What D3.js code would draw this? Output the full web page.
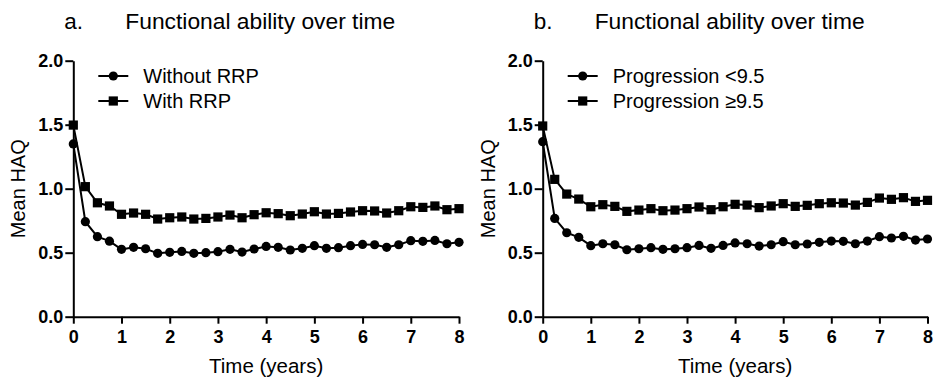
<!DOCTYPE html>
<html><head><meta charset="utf-8">
<script src="https://cdn.jsdelivr.net/npm/d3@7"></script>
<style>
body{margin:0;background:#fff;}
svg{display:block;font-family:"Liberation Sans",Arial,sans-serif;}
</style></head>
<body><svg id="c" width="939" height="378"></svg>
<script>
const times = [0,0.25,0.5,0.75,1,1.25,1.5,1.75,2,2.25,2.5,2.75,3,3.25,3.5,3.75,4,4.25,4.5,4.75,5,5.25,5.5,5.75,6,6.25,6.5,6.75,7,7.25,7.5,7.75,8];
const withoutRRP = [1.35,0.742,0.625,0.59,0.526,0.542,0.531,0.495,0.503,0.51,0.495,0.5,0.508,0.526,0.505,0.529,0.549,0.542,0.521,0.534,0.555,0.534,0.539,0.555,0.565,0.562,0.542,0.562,0.594,0.589,0.596,0.57,0.581];
const withRRP = [1.497,1.016,0.89,0.865,0.80,0.81,0.80,0.763,0.773,0.779,0.763,0.768,0.779,0.794,0.773,0.797,0.812,0.805,0.789,0.802,0.82,0.802,0.807,0.818,0.828,0.826,0.81,0.828,0.859,0.854,0.865,0.836,0.844];
const progLow = [1.367,0.768,0.656,0.62,0.555,0.57,0.562,0.523,0.531,0.539,0.526,0.531,0.539,0.557,0.534,0.557,0.576,0.57,0.552,0.562,0.586,0.562,0.568,0.581,0.591,0.589,0.57,0.591,0.625,0.615,0.628,0.599,0.607];
const progHigh = [1.49,1.073,0.958,0.919,0.859,0.875,0.862,0.823,0.833,0.844,0.828,0.833,0.844,0.857,0.836,0.859,0.878,0.872,0.852,0.865,0.883,0.862,0.87,0.883,0.89,0.888,0.872,0.893,0.927,0.917,0.93,0.901,0.909];
const xTicks = [0,1,2,3,4,5,6,7,8];
const yTicks = [0,0.5,1,1.5,2];

const panels = [
  {letter:"a.", title:"Functional ability over time", x0:73.3, x1:459,
   series:[{name:"Without RRP", values:withoutRRP, shape:"circle"},
           {name:"With RRP", values:withRRP, shape:"square"}]},
  {letter:"b.", title:"Functional ability over time", x0:542.7, x1:927.5,
   series:[{name:"Progression <9.5", values:progLow, shape:"circle"},
           {name:"Progression \u22659.5", values:progHigh, shape:"square"}]}
];

const svg = d3.select("#c");
const yTop = 60.7, yBot = 316.7;

panels.forEach(p => {
  const g = svg.append("g");
  const x = d3.scaleLinear().domain([0,8]).range([p.x0,p.x1]);
  const y = d3.scaleLinear().domain([0,2]).range([yBot,yTop]);

  g.append("text").attr("x", p.x0-9).attr("y", 29).attr("font-size",22.5).text(p.letter);
  g.append("text").attr("x", p.x0+52).attr("y", 29).attr("font-size",22.8).text(p.title);

  const ya = g.append("g").attr("transform",`translate(${p.x0},0)`)
    .call(d3.axisLeft(y).tickValues(yTicks).tickFormat(d3.format(".1f")).tickSize(8).tickSizeOuter(0).tickPadding(2));
  const xa = g.append("g").attr("transform",`translate(0,${yBot})`)
    .call(d3.axisBottom(x).tickValues(xTicks).tickFormat(d3.format("d")).tickSize(7).tickSizeOuter(0).tickPadding(7));
  [ya,xa].forEach(a => {
    a.select(".domain").attr("stroke","#000").attr("stroke-width",2);
    a.selectAll(".tick line").attr("stroke","#000").attr("stroke-width",2);
    a.selectAll(".tick text").attr("fill","#000").attr("font-size",18).attr("font-weight","bold").attr("font-family","'Liberation Sans',Arial,sans-serif");
  });

  g.append("text").attr("x",(p.x0+p.x1)/2).attr("y",373).attr("text-anchor","middle").attr("font-size",20.5).text("Time (years)");
  g.append("text").attr("transform",`translate(${p.x0-48},${(yTop+yBot)/2}) rotate(-90)`).attr("text-anchor","middle").attr("font-size",20).text("Mean HAQ");

  const line = d3.line().x((d,i)=>x(times[i])).y(d=>y(d));
  const drawMarker = (sel, shape) => {
    if (shape==="circle") sel.append("circle").attr("r",4.6).attr("fill","#000");
    else sel.append("rect").attr("x",-4.6).attr("y",-4.6).attr("width",9.2).attr("height",9.2).attr("fill","#000");
  };

  p.series.forEach((s,si) => {
    g.append("path").datum(s.values).attr("d",line).attr("fill","none").attr("stroke","#000").attr("stroke-width",2);
    g.selectAll(null).data(s.values).enter().append("g")
      .attr("transform",(d,i)=>`translate(${x(times[i])},${y(d)})`)
      .each(function(){ drawMarker(d3.select(this), s.shape); });

    const ly = 76 + si*25;
    const lx = p.x0 + 25;
    g.append("line").attr("x1",lx).attr("x2",lx+30).attr("y1",ly).attr("y2",ly).attr("stroke","#000").attr("stroke-width",2);
    const mk = g.append("g").attr("transform",`translate(${lx+15},${ly})`);
    drawMarker(mk, s.shape);
    g.append("text").attr("x",lx+45).attr("y",ly+7).attr("font-size",20).text(s.name);
  });
});
</script></body></html>
